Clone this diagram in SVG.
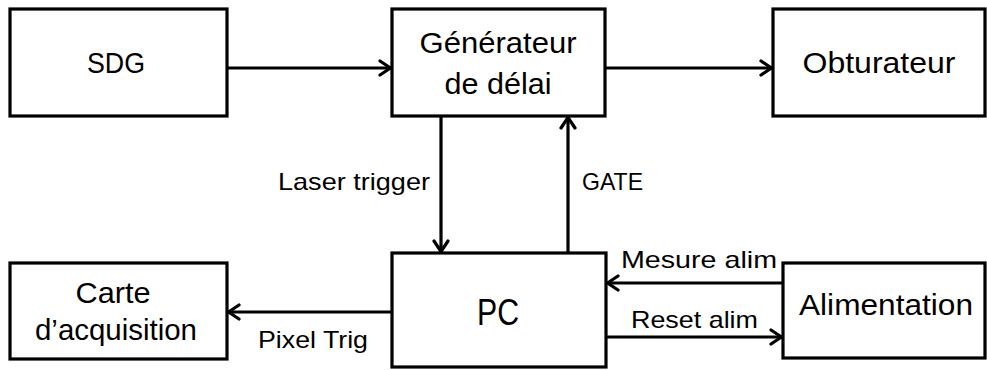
<svg xmlns="http://www.w3.org/2000/svg" width="987" height="370" viewBox="0 0 987 370">
<style>
.box{fill:#fff;stroke:#000;stroke-width:3.2}
.t{font-family:"Liberation Sans",Arial,sans-serif;font-size:30px;fill:#000;text-anchor:middle}
.l{font-family:"Liberation Sans",Arial,sans-serif;font-size:24px;fill:#000}
.c{fill:none;stroke:#000;stroke-width:3.2}
</style>
<defs>
<marker id="arr" viewBox="0 0 14 18" refX="13" refY="9" markerWidth="14" markerHeight="18" markerUnits="userSpaceOnUse" orient="auto">
<path d="M2,2 L12.5,9 L2,16" fill="none" stroke="#000" stroke-width="3.2" stroke-linecap="round" stroke-linejoin="round"/>
</marker>
</defs>
<g id="connectors">
<line class="c" x1="227" y1="68" x2="391" y2="68" marker-end="url(#arr)"/>
<line class="c" x1="605" y1="68" x2="772" y2="68" marker-end="url(#arr)"/>
<line class="c" x1="441" y1="116" x2="441" y2="252" marker-end="url(#arr)"/>
<line class="c" x1="568" y1="253" x2="568" y2="117" marker-end="url(#arr)"/>
<line class="c" x1="392" y1="312" x2="228" y2="312" marker-end="url(#arr)"/>
<line class="c" x1="783" y1="283" x2="607" y2="283" marker-end="url(#arr)"/>
<line class="c" x1="606" y1="337" x2="782" y2="337" marker-end="url(#arr)"/>
<text class="l" x="278" y="190" textLength="152" lengthAdjust="spacingAndGlyphs">Laser trigger</text>
<text class="l" x="582" y="190" textLength="61" lengthAdjust="spacingAndGlyphs">GATE</text>
<text class="l" x="258" y="348" textLength="110" lengthAdjust="spacingAndGlyphs">Pixel Trig</text>
<text class="l" x="621" y="268" textLength="156" lengthAdjust="spacingAndGlyphs">Mesure alim</text>
<text class="l" x="631" y="328" textLength="127" lengthAdjust="spacingAndGlyphs">Reset alim</text>
</g>
<g id="sdg">
<rect class="box" x="10" y="9" width="217" height="107"/>
<text class="t" x="116" y="73" textLength="58" lengthAdjust="spacingAndGlyphs">SDG</text>
</g>
<g id="generateur">
<rect class="box" x="392" y="9" width="213" height="107"/>
<text class="t" x="498" y="53" textLength="157" lengthAdjust="spacingAndGlyphs">Générateur</text>
<text class="t" x="498" y="94" textLength="107" lengthAdjust="spacingAndGlyphs">de délai</text>
</g>
<g id="obturateur">
<rect class="box" x="773" y="9" width="212" height="107"/>
<text class="t" x="879" y="73" textLength="153" lengthAdjust="spacingAndGlyphs">Obturateur</text>
</g>
<g id="carte">
<rect class="box" x="10" y="263" width="217" height="96"/>
<text class="t" x="113" y="303" textLength="75" lengthAdjust="spacingAndGlyphs">Carte</text>
<text class="t" x="116" y="340" textLength="162" lengthAdjust="spacingAndGlyphs">d’acquisition</text>
</g>
<g id="pc">
<rect class="box" x="392" y="253" width="214" height="114"/>
<text class="t" x="498" y="325" style="font-size:36px" textLength="42" lengthAdjust="spacingAndGlyphs">PC</text>
</g>
<g id="alimentation">
<rect class="box" x="783" y="263" width="202" height="95"/>
<text class="t" x="886" y="315" textLength="174" lengthAdjust="spacingAndGlyphs">Alimentation</text>
</g>
</svg>
